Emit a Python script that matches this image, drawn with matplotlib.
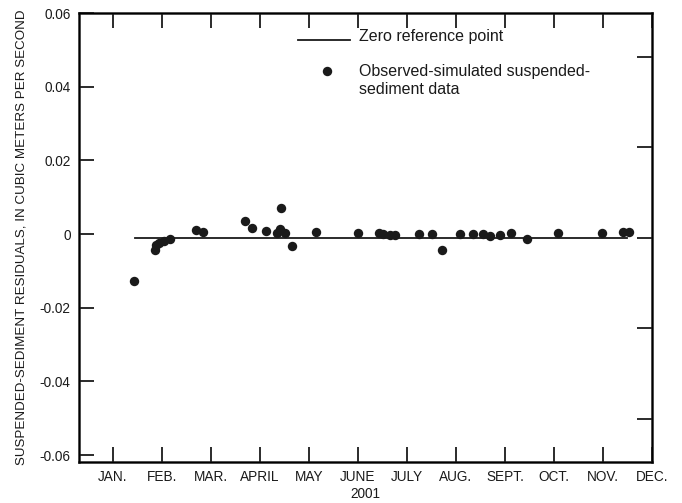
import numpy as np
import matplotlib
matplotlib.use('Agg')
import matplotlib.pyplot as plt

plt.rcParams['font.family'] = ['Liberation Sans', 'DejaVu Sans']

months = ['JAN.', 'FEB.', 'MAR.', 'APRIL', 'MAY', 'JUNE', 'JULY', 'AUG.', 'SEPT.', 'OCT.', 'NOV.', 'DEC.']
# x in months (1 = JAN. tick), residuals in cubic meters per second
x_obs = [1.43, 1.87, 1.88, 1.95, 2.05, 2.16, 2.70, 2.85,
         3.70, 3.84, 4.13, 4.43, 4.41, 4.34, 4.51, 4.65, 5.15,
         6.01, 6.44, 6.51, 6.66, 6.76, 7.25, 7.52, 7.71, 8.08, 8.34,
         8.56, 8.70, 8.89, 9.12, 9.46, 10.08, 10.97, 11.41, 11.53]
y_obs = [-0.0127, -0.0043, -0.0030, -0.0025, -0.0020, -0.0014, 0.0011, 0.0006,
         0.0036, 0.0017, 0.0007, 0.0070, 0.0013, 0.0002, 0.0002, -0.0033, 0.0005,
         0.0002, 0.0002, 0.0001, -0.0002, -0.0002, 0.0000, -0.0001, -0.0043, 0.0000, -0.0001,
         0.0000, -0.0004, -0.0003, 0.0002, -0.0014, 0.0002, 0.0002, 0.0005, 0.0006]
ref_x = [1.45, 11.49]
ref_y = [-0.0011, -0.0011]

yticks = [-0.06, -0.04, -0.02, 0, 0.02, 0.04, 0.06]
ylabels = ['-0.06', '-0.04', '-0.02', '0', '0.02', '0.04', '0.06']
right_ticks = [-0.0502, -0.0256, -0.0011, 0.0235, 0.0480]

fig = plt.figure(figsize=(6.82, 5.03), dpi=100)
ax = fig.add_axes([0.1158, 0.0815, 0.8402, 0.8925])

ax.plot(ref_x, ref_y, color='#1a1a1a', lw=1.3)
ax.scatter(x_obs, y_obs, s=46, color='#1a1a1a', zorder=3, linewidths=0)

ax.set_xlim(0.31, 12)
ax.set_ylim(-0.0619, 0.06)

ax.set_xticks(range(1, 13), months)
ax.set_yticks(yticks, ylabels)
ax.tick_params(axis='x', direction='in', length=11, width=1.3, top=True, labelsize=9.8, pad=6, colors='#1a1a1a')
ax.tick_params(axis='y', direction='in', length=11, width=1.3, labelsize=9.8, pad=6, colors='#1a1a1a')
for s in ax.spines.values():
    s.set_linewidth(1.8)
    s.set_color('#1a1a1a')

# ticks on the right side
ax2 = ax.twinx()
ax2.set_ylim(ax.get_ylim())
ax2.set_yticks(right_ticks)
ax2.set_yticklabels([])
ax2.tick_params(axis='y', direction='in', length=11, width=1.3, colors='#1a1a1a')

ax.set_xlabel('2001', fontsize=9.8, labelpad=2, color='#1a1a1a')
ax.set_ylabel('SUSPENDED-SEDIMENT RESIDUALS, IN CUBIC METERS PER SECOND', fontsize=9.6,
              labelpad=9, color='#1a1a1a')

# legend
ax.plot([4.78, 5.84], [0.0527, 0.0527], color='#1a1a1a', lw=1.3)
ax.text(6.02, 0.0537, 'Zero reference point', fontsize=11.5, va='center', color='#1a1a1a')
ax.scatter([5.36], [0.0442], s=46, color='#1a1a1a', linewidths=0)
ax.text(6.02, 0.0461, 'Observed-simulated suspended-\nsediment data', fontsize=11.5, va='top',
        linespacing=1.2, color='#1a1a1a')

fig.savefig('out.png', dpi=100)
